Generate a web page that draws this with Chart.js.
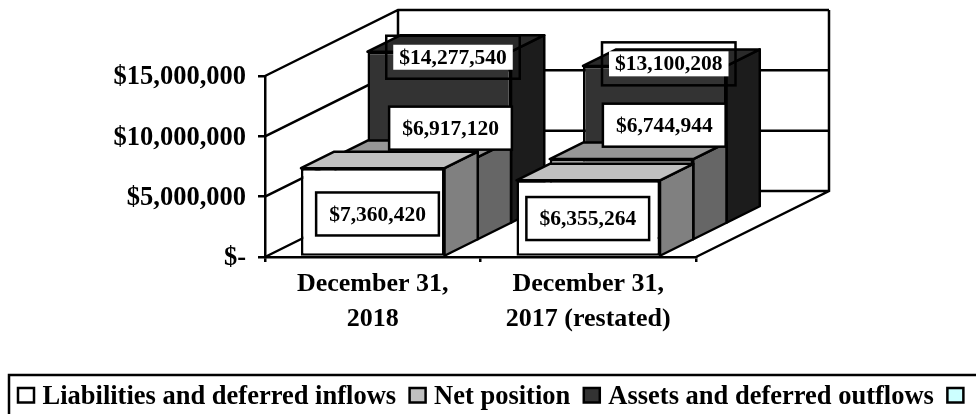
<!DOCTYPE html>
<html>
<head>
<meta charset="utf-8">
<script src="https://cdn.jsdelivr.net/npm/chart.js@4"></script>
<style>html,body{margin:0;padding:0;background:#fff}canvas{display:block}</style>
</head>
<body>
<canvas id="c" width="976" height="414"></canvas>
<script>
const categories = [["December 31,", "2018"], ["December 31,", "2017 (restated)"]];
const seriesNames = ["Liabilities and deferred inflows", "Net position", "Assets and deferred outflows", ""];
const liabilities = [7360420, 6355264];
const netPosition = [6917120, 6744944];
const assets = [14277540, 13100208];
const emptySeries = [null, null];
const yTicks = [0, 5000000, 10000000, 15000000];

const frontColors = ["#FFFFFF", "#C0C0C0", "#333333", "#CCFFFF"];
const topColors = ["#C0C0C0", "#969696", "#2A2A2A", "#CCFFFF"];
const sideColors = ["#808080", "#666666", "#1C1C1C", "#CCFFFF"];

const FONT = '"Liberation Serif", "Times New Roman", serif';
const LINE = 2.5;
const SLOT_DX = 33.25, SLOT_DY = 16.5, SLOTS = 4;

// label centre relative to the centre of the bar's front face: [series][category]
const labelNudge = [
  [[4.75, 2], [-0.5, 0.5]],
  [[44.5, -70], [42.75, -74]],
  [[13.75, -80], [14, -80.5]]
];
const fmt = v => "$" + v.toLocaleString("en-US");

const walls = {
  id: "walls",
  beforeDatasetsDraw(chart) {
    const { ctx, chartArea: a, scales: { y } } = chart;
    const dx = SLOT_DX * SLOTS, dy = SLOT_DY * SLOTS;
    ctx.save();
    ctx.strokeStyle = "#000";
    ctx.lineWidth = LINE;
    ctx.lineJoin = "miter";
    ctx.beginPath();
    yTicks.forEach(t => {
      const py = y.getPixelForValue(t);
      ctx.moveTo(a.left, py);
      ctx.lineTo(a.left + dx, py - dy);
      ctx.lineTo(a.right + dx, py - dy);
    });
    const yTop = y.getPixelForValue(15000000), yBase = y.getPixelForValue(0);
    ctx.moveTo(a.left + dx, yTop - dy);
    ctx.lineTo(a.left + dx, yBase - dy);
    ctx.moveTo(a.right + dx, yTop - dy);
    ctx.lineTo(a.right + dx, yBase - dy);
    ctx.lineTo(a.right, yBase);
    ctx.stroke();
    ctx.restore();
  },
  beforeDatasetDraw(chart, args) {
    const { ctx } = chart;
    const z = args.index, dx = SLOT_DX, dy = SLOT_DY;
    ctx.save();
    ctx.translate(z * dx, -z * dy);
    ctx.strokeStyle = "#000";
    ctx.lineWidth = LINE;
    ctx.lineJoin = "round";
    args.meta.data.forEach((el, i) => {
      if (chart.data.datasets[z].data[i] == null) return;
      const p = el.getProps(["x", "y", "base", "width"], true);
      const l = p.x - p.width / 2, r = p.x + p.width / 2;
      ctx.fillStyle = sideColors[z];
      ctx.beginPath();
      ctx.moveTo(r, p.y); ctx.lineTo(r + dx, p.y - dy);
      ctx.lineTo(r + dx, p.base - dy); ctx.lineTo(r, p.base);
      ctx.closePath(); ctx.fill(); ctx.stroke();
      ctx.fillStyle = topColors[z];
      ctx.beginPath();
      ctx.moveTo(l, p.y); ctx.lineTo(l + dx, p.y - dy);
      ctx.lineTo(r + dx, p.y - dy); ctx.lineTo(r, p.y);
      ctx.closePath(); ctx.fill(); ctx.stroke();
    });
  },
  afterDatasetDraw(chart) {
    chart.ctx.restore();
  },
  afterDraw(chart) {
    const { ctx } = chart;
    // value labels
    ctx.save();
    ctx.font = "bold 21.5px " + FONT;
    ctx.textAlign = "center";
    ctx.textBaseline = "middle";
    [2, 1, 0].forEach(z => {
      chart.getDatasetMeta(z).data.forEach((el, i) => {
        const v = chart.data.datasets[z].data[i];
        const p = el.getProps(["x", "y", "base"], true);
        const cx = p.x + z * SLOT_DX + labelNudge[z][i][0];
        const cy = (p.y + p.base) / 2 - z * SLOT_DY + labelNudge[z][i][1];
        const t = fmt(v);
        const w = ctx.measureText(t).width;
        const fw = w + 26, fh = 43;
        ctx.lineWidth = LINE;
        ctx.strokeStyle = "#000";
        ctx.fillStyle = "#fff";
        if (z === 2) {
          ctx.fillRect(cx - w / 2 - 6, cy - 12.5, w + 12, 25);
          ctx.strokeRect(cx - fw / 2, cy - fh / 2, fw, fh);
        } else {
          ctx.fillRect(cx - fw / 2, cy - fh / 2, fw, fh);
          ctx.strokeRect(cx - fw / 2, cy - fh / 2, fw, fh);
        }
        ctx.fillStyle = "#000";
        ctx.fillText(t, cx, cy + 1);
      });
    });
    ctx.restore();

    // legend, frame runs past the picture's right and bottom edges
    ctx.save();
    ctx.strokeStyle = "#000";
    ctx.lineWidth = LINE;
    ctx.strokeRect(9, 375, 1000, 100);
    ctx.font = "bold 26.5px " + FONT;
    ctx.textAlign = "left";
    ctx.textBaseline = "alphabetic";
    let x = 18;
    chart.data.datasets.forEach((ds, i) => {
      ctx.fillStyle = frontColors[i];
      ctx.fillRect(x, 388, 16, 14.5);
      ctx.strokeRect(x, 388, 16, 14.5);
      ctx.fillStyle = "#000";
      ctx.fillText(ds.label, x + 24.5, 404);
      x += 24.5 + ctx.measureText(ds.label).width + 13.5;
    });
    ctx.restore();
  }
};

new Chart(document.getElementById("c"), {
  type: "bar",
  data: {
    labels: categories,
    datasets: [liabilities, netPosition, assets, emptySeries].map((d, i) => ({
      label: seriesNames[i],
      data: d,
      backgroundColor: frontColors[i],
      borderColor: "#000",
      borderWidth: LINE,
      borderSkipped: false,
      clip: false
    }))
  },
  options: {
    responsive: false,
    animation: false,
    events: [],
    layout: { padding: { left: 0, right: 280, top: 76, bottom: 67 } },
    datasets: { bar: { grouped: false, barPercentage: 0.666, categoryPercentage: 1 } },
    plugins: { legend: { display: false }, tooltip: { enabled: false }, title: { display: false } },
    scales: {
      x: {
        afterFit(s) { s.height = 90; },
        grid: { drawOnChartArea: false, color: "#000", lineWidth: LINE, tickLength: 5, offset: true },
        border: { color: "#000", width: LINE },
        ticks: {
          color: "#000", maxRotation: 0, minRotation: 0, autoSkip: false, padding: 5,
          font: { family: FONT, weight: "bold", size: 26, lineHeight: 1.35 }
        }
      },
      y: {
        min: 0, max: 15000000,
        afterFit(s) { s.width = 265; },
        afterBuildTicks(s) { s.ticks = yTicks.map(v => ({ value: v })); },
        grid: { drawOnChartArea: false, color: "#000", lineWidth: LINE, tickLength: 7 },
        border: { color: "#000", width: LINE },
        ticks: {
          color: "#000", padding: 12, labelOffset: 1.5,
          font: { family: FONT, weight: "bold", size: 26.5 },
          callback: v => (v === 0 ? "$-" : fmt(v))
        }
      }
    }
  },
  plugins: [walls]
});
</script>
</body>
</html>
